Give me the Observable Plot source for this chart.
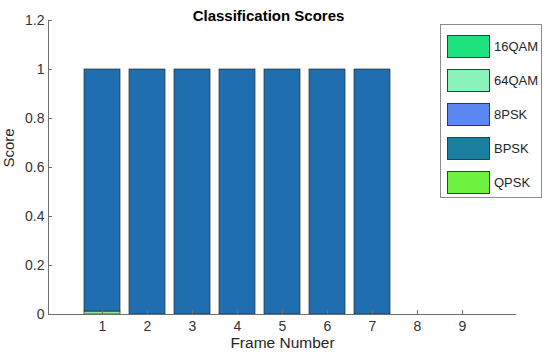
<!DOCTYPE html>
<html>
<head>
<meta charset="utf-8">
<script src="https://cdn.jsdelivr.net/npm/d3@7"></script>
<script src="https://cdn.jsdelivr.net/npm/@observablehq/plot@0.6"></script>
<style>
  html, body { margin: 0; padding: 0; background: #fff; }
  #wrap { position: relative; width: 550px; height: 354px; font-family: "Liberation Sans", Arial, Helvetica, sans-serif; }
  #legend { position: absolute; left: 440px; top: 24px; width: 102px; height: 174px; border: 1px solid #8c8c8c; background: #fff; box-sizing: border-box; }
  .item { position: absolute; left: 6px; height: 24px; display: flex; align-items: center; }
  .sw { width: 43px; height: 23px; border: 1px solid #3a3a3a; box-sizing: border-box; }
  .lab { margin-left: 4px; font-size: 13px; color: #262626; }
</style>
</head>
<body>
<div id="wrap"></div>
<script>
const frames = [1, 2, 3, 4, 5, 6, 7, 8, 9];
const classes = ["16QAM", "64QAM", "8PSK", "BPSK", "QPSK"];
const legendColors = ["#1ee27e", "#8af2bb", "#5b87f2", "#1a80a2", "#6ef23f"];
const barColors = ["#1ee27e", "#8ee3a0", "#5b87f2", "#1f6fb0", "#6ef23f"];
const score16QAM = [0, 0, 0, 0, 0, 0, 0, 0, 0];
const score64QAM = [0.012, 0, 0, 0, 0, 0, 0, 0, 0];
const score8PSK  = [0, 0, 0, 0, 0, 0, 0, 0, 0];
const scoreBPSK  = [0.988, 1, 1, 1, 1, 1, 1, 0, 0];
const scoreQPSK  = [0, 0, 0, 0, 0, 0, 0, 0, 0];
const yTicks = [0, 0.2, 0.4, 0.6, 0.8, 1, 1.2];
const yTickLabels = ["0", "0.2", "0.4", "0.6", "0.8", "1", "1.2"];
const xDomain = [-0.2, 10.2];
const yDomain = [0, 1.2];
const barWidth = 0.8;
const title = "Classification Scores";
const xLabel = "Frame Number";
const yLabel = "Score";

const series = [score16QAM, score64QAM, score8PSK, scoreBPSK, scoreQPSK];
// stack order as drawn: bottom first
const stackOrder = [1, 3, 0, 2, 4];
const rects = [];
frames.forEach((f, i) => {
  let base = 0;
  for (const c of stackOrder) {
    const v = series[c][i];
    if (v > 0) {
      rects.push({frame: f, cls: classes[c], y1: base, y2: base + v, color: barColors[c]});
      base += v;
    }
  }
});

const chart = Plot.plot({
  width: 550,
  height: 354,
  marginLeft: 48,
  marginRight: 34,
  marginTop: 20,
  marginBottom: 40,
  x: {domain: xDomain},
  y: {domain: yDomain},
  style: {fontFamily: "'Liberation Sans', Arial, Helvetica, sans-serif", fontSize: "14px", color: "#262626", background: "transparent"},
  marks: [
    Plot.rect(rects, {
      x1: d => d.frame - barWidth / 2,
      x2: d => d.frame + barWidth / 2,
      y1: "y1", y2: "y2",
      fill: "color",
      stroke: "#2b2b2b",
      strokeWidth: 0.7
    }),
    Plot.ruleX([xDomain[0]], {stroke: "#6e6e6e"}),
    Plot.ruleY([yDomain[0]], {stroke: "#6e6e6e"}),
    Plot.axisY({
      ticks: yTicks,
      tickFormat: (d) => yTickLabels[yTicks.indexOf(d)],
      tickSize: -4,
      tickPadding: 8,
      stroke: "#6e6e6e",
      fontSize: 14,
      label: null,
      fill: "#333"
    }),
    Plot.axisX({
      ticks: frames,
      tickFormat: d => String(d),
      tickSize: -4,
      tickPadding: 11,
      stroke: "#6e6e6e",
      fontSize: 14,
      label: null,
      fill: "#333"
    }),
    Plot.text([xLabel], {
      text: d => d,
      frameAnchor: "bottom",
      dy: 33,
      fontSize: 15.5,
      fill: "#262626"
    }),
    Plot.text([yLabel], {
      text: d => d,
      frameAnchor: "left",
      dx: -39,
      rotate: -90,
      fontSize: 15,
      fill: "#262626"
    }),
    Plot.text([title], {
      text: d => d,
      frameAnchor: "top",
      dy: -10,
      dx: -14,
      fontSize: 15,
      fontWeight: "bold",
      fill: "#000"
    })
  ]
});

const wrap = document.getElementById("wrap");
wrap.appendChild(chart);

const legend = document.createElement("div");
legend.id = "legend";
classes.forEach((c, i) => {
  const item = document.createElement("div");
  item.className = "item";
  item.style.top = (9 + i * 34) + "px";
  const sw = document.createElement("div");
  sw.className = "sw";
  sw.style.background = legendColors[i];
  const lab = document.createElement("span");
  lab.className = "lab";
  lab.textContent = c;
  item.appendChild(sw);
  item.appendChild(lab);
  legend.appendChild(item);
});
wrap.appendChild(legend);
</script>
</body>
</html>
